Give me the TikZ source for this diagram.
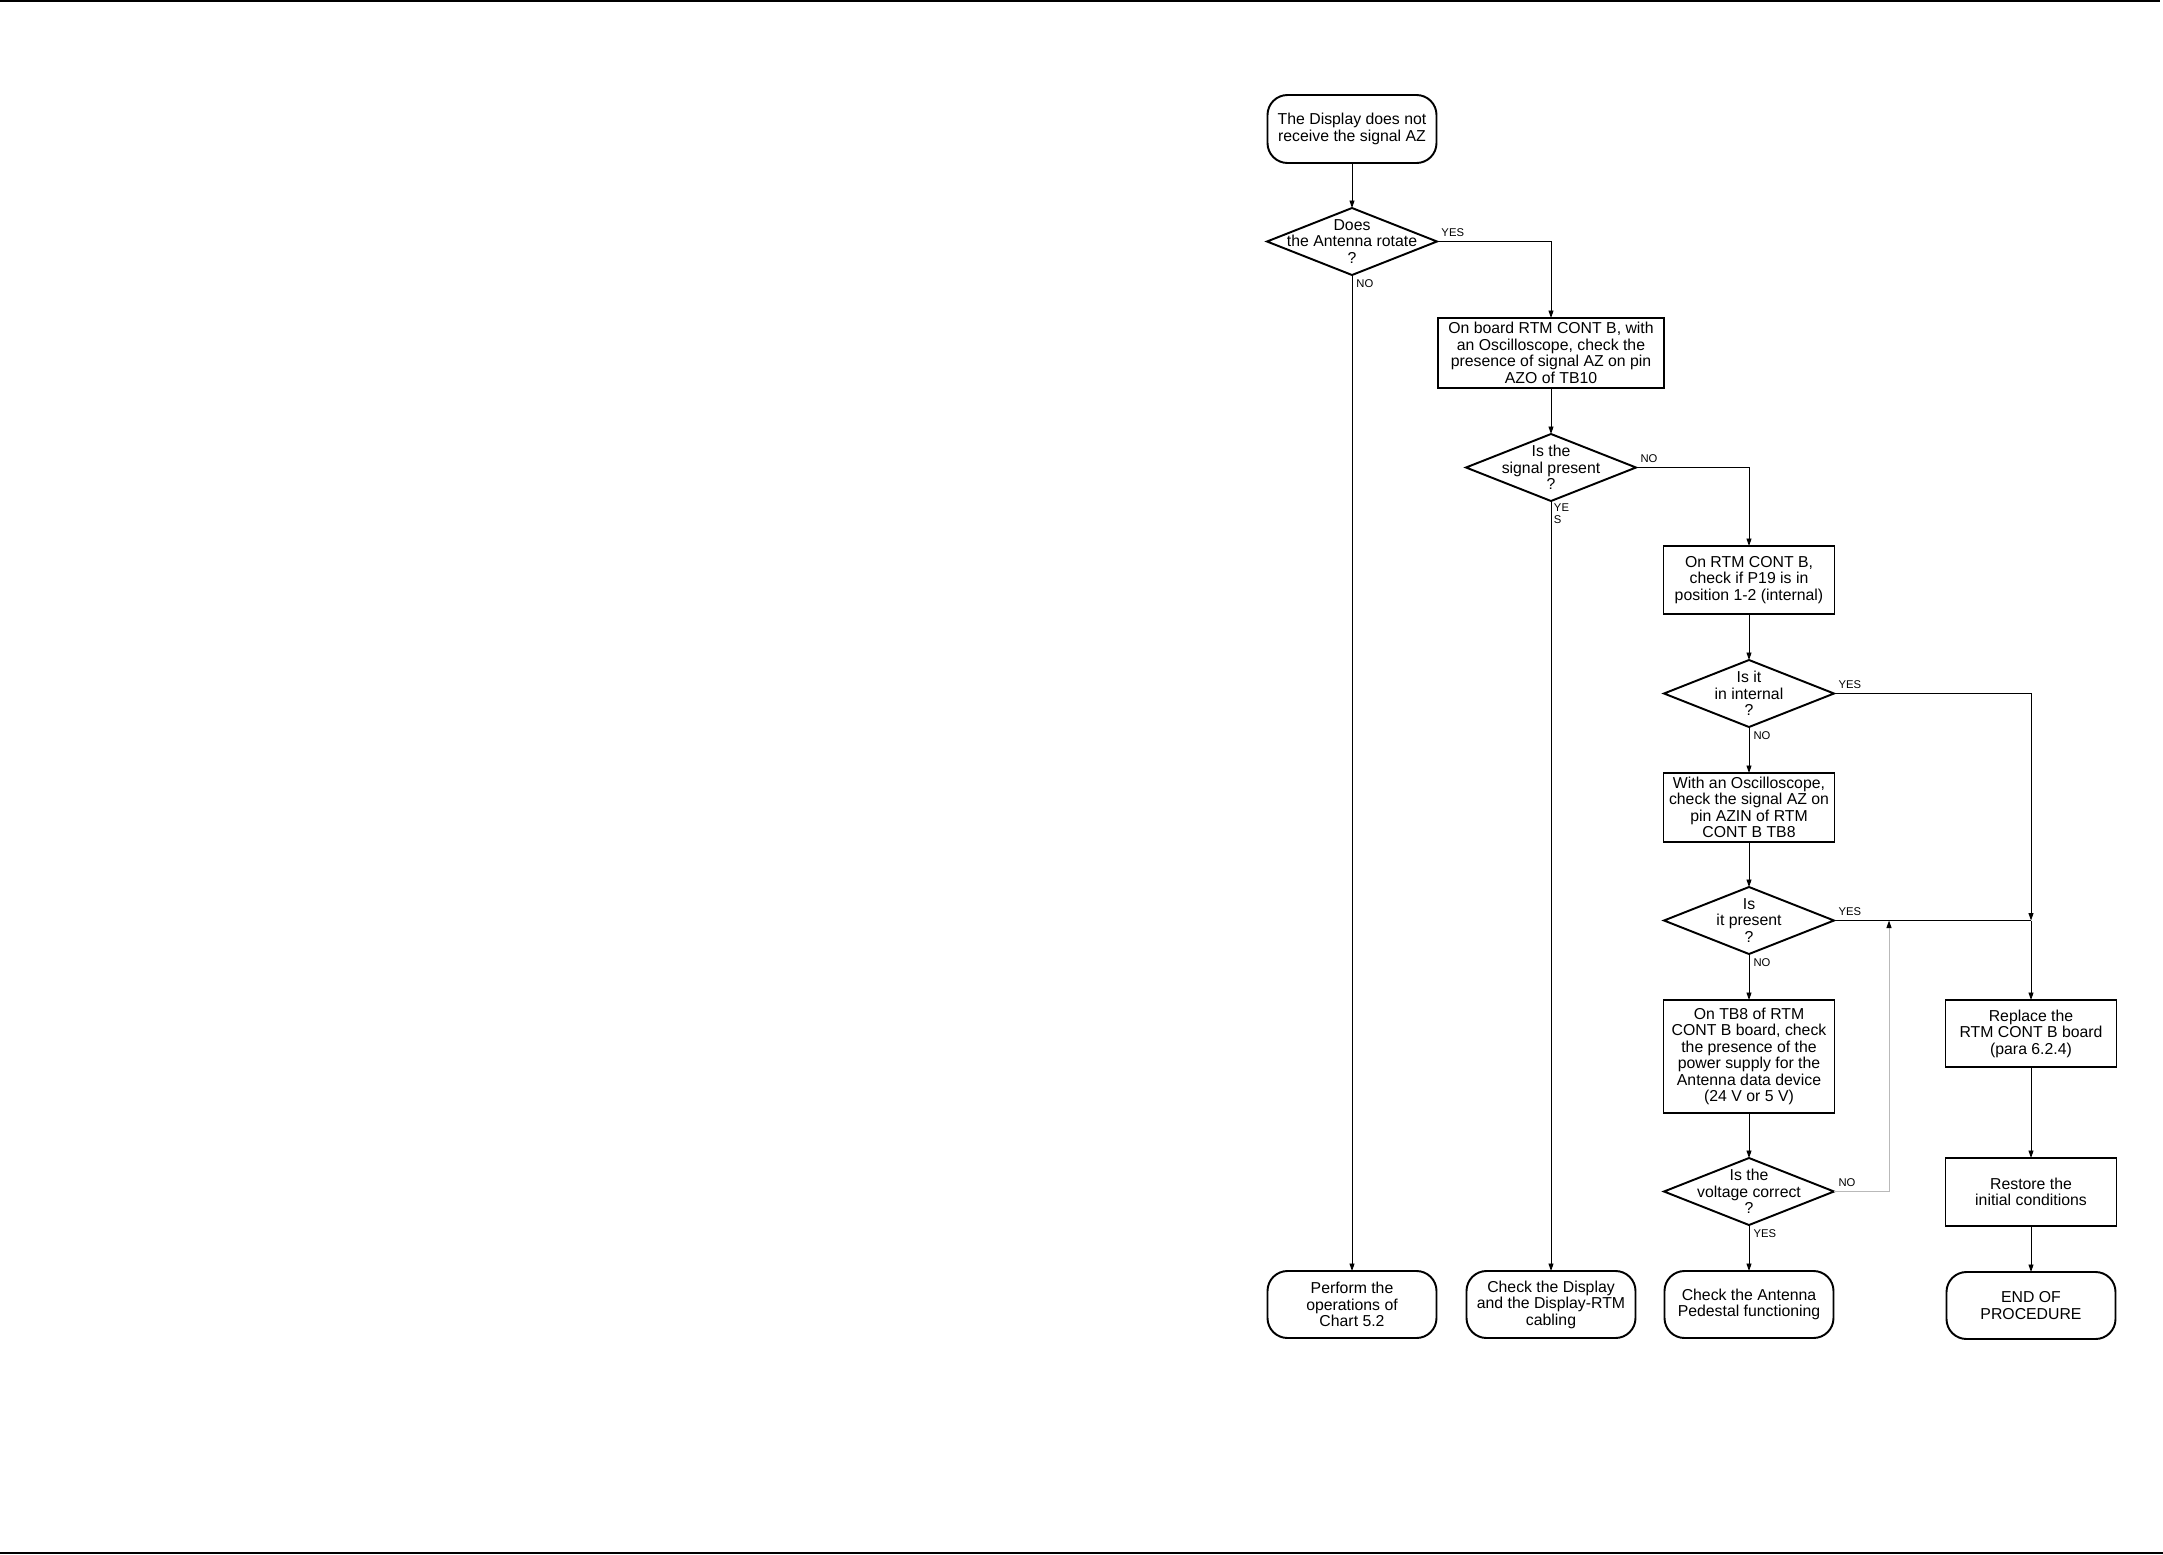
\documentclass[tikz,border=0pt]{standalone}
\usepackage{fontspec}
\setmainfont{Liberation Sans}
\usetikzlibrary{shapes.geometric, arrows.meta, positioning, calc}

\begin{document}
\begin{tikzpicture}[
    >={Triangle[length=1.5mm, width=1.0mm]},
    every node/.style={font=\fontsize{9}{9.4}\selectfont},
    conn/.style={line width=0.55pt},
    box/.style={rectangle, draw, line width=1.1pt, outer sep=0pt, align=center, minimum width=3.42cm, minimum height=1.36cm, inner sep=2pt},
    term/.style={rectangle, draw, line width=1.1pt, outer sep=0pt, rounded corners=0.4cm, align=center, minimum width=3.38cm, minimum height=1.34cm, inner sep=2pt},
    decision/.style={diamond, draw, line width=1.1pt, outer sep=0pt, minimum width=3.4cm, minimum height=1.34cm, inner sep=0pt,
        label={[align=center]center:#1}},
    lbl/.style={font=\fontsize{6.4}{6.8}\selectfont, inner sep=0.08cm}
]
\useasboundingbox (0,0) rectangle (43.26,-31.08);

% page rules
\draw[line width=1.1pt] (0,-0.02) -- (43.2,-0.02);
\draw[line width=1.1pt] (0,-31.06) -- (43.26,-31.06);

% ============================================================
% 1. START
% ============================================================
\node[term, minimum height=1.36cm] (start) at (27.04,-2.58) {The Display does not\\receive the signal AZ};
\node[decision={Does\\the Antenna rotate\\?}, below=0.9cm of start] (rotates) {};

% ============================================================
% 2. SIGNAL ON TB10
% ============================================================
\node[box, minimum width=4.52cm, minimum height=1.4cm, below=0.86cm of rotates, xshift=3.98cm] (azo) {On board RTM CONT B, with\\an Oscilloscope, check the\\presence of signal AZ on pin\\AZO of TB10};
\node[decision={Is the\\signal present\\?}, below=0.92cm of azo] (sigpres) {};

% ============================================================
% 3. P19 / TB8 CHECKS
% ============================================================
\node[box, below=0.9cm of sigpres, xshift=3.96cm] (p19) {On RTM CONT B,\\check if P19 is in\\position 1-2 (internal)};
\node[decision={Is it\\in internal\\?}, below=0.92cm of p19] (internal) {};
\node[box, minimum height=1.38cm, below=0.92cm of internal] (azin) {With an Oscilloscope,\\check the signal AZ on\\pin AZIN of RTM\\CONT B TB8};
\node[decision={Is\\it present\\?}, below=0.9cm of azin] (itpres) {};
\node[box, minimum height=2.26cm, below=0.92cm of itpres] (supply) {On TB8 of RTM\\CONT B board, check\\the presence of the\\power supply for the\\Antenna data device\\(24 V or 5 V)};
\node[decision={Is the\\voltage correct\\?}, below=0.9cm of supply] (voltage) {};

% ============================================================
% 4. BOARD REPLACEMENT
% ============================================================
\node[box, minimum height=1.34cm, anchor=north, xshift=5.64cm] (replace) at (supply.north) {Replace the\\RTM CONT B board\\(para 6.2.4)};
\node[box, below=1.82cm of replace] (restore) {Restore the\\initial conditions};

% ============================================================
% 5. END POINTS
% ============================================================
\node[term, below=0.92cm of voltage] (pedestal) {Check the Antenna\\Pedestal functioning};
\node[term, below=0.92cm of restore] (endproc) {END OF\\PROCEDURE};
\node[term] (chart) at (start |- pedestal) {Perform the\\operations of\\Chart 5.2};
\node[term] (cabling) at (azo |- pedestal) {Check the Display\\and the Display-RTM\\cabling};

\coordinate (merge) at (replace.north |- itpres.east);
\coordinate (back) at ($(itpres.east)+(1.1,0)$);

\draw[conn, ->] (start) -- (rotates);
\draw[conn, ->] (rotates.east) -| node[lbl, pos=0, anchor=south west] {YES} (azo.north);
\draw[conn, ->] (rotates.south) -- node[lbl, pos=0, anchor=north west] {NO} (chart.north);
\draw[conn, ->] (azo) -- (sigpres);
\draw[conn, ->] (sigpres.east) -| node[lbl, pos=0, anchor=south west] {NO} (p19.north);
\draw[conn, ->] (sigpres.south) -- node[lbl, pos=0, anchor=north west, align=left, inner sep=0.05cm] {YE\\S} (cabling.north);
\draw[conn, ->] (p19) -- (internal);
\draw[conn, ->] (internal.east) -| node[lbl, pos=0, anchor=south west] {YES} (merge);
\draw[conn, ->] (internal.south) -- node[lbl, pos=0, anchor=north west] {NO} (azin.north);
\draw[conn, ->] (azin) -- (itpres);
\draw[conn] (itpres.east) -- node[lbl, pos=0, anchor=south west] {YES} (merge);
\draw[conn, ->] (merge) -- (replace.north);
\draw[conn, ->] (itpres.south) -- node[lbl, pos=0, anchor=north west] {NO} (supply.north);
\draw[conn, ->] (supply) -- (voltage);
\draw[conn, gray!55, -{Triangle[length=1.5mm, width=1.0mm, color=black]}] (voltage.east) -| node[lbl, pos=0, anchor=south west, text=black] {NO} (back);
\draw[conn, ->] (voltage.south) -- node[lbl, pos=0, anchor=north west] {YES} (pedestal.north);
\draw[conn, ->] (replace) -- (restore);
\draw[conn, ->] (restore) -- (endproc);

\end{tikzpicture}
\end{document}
